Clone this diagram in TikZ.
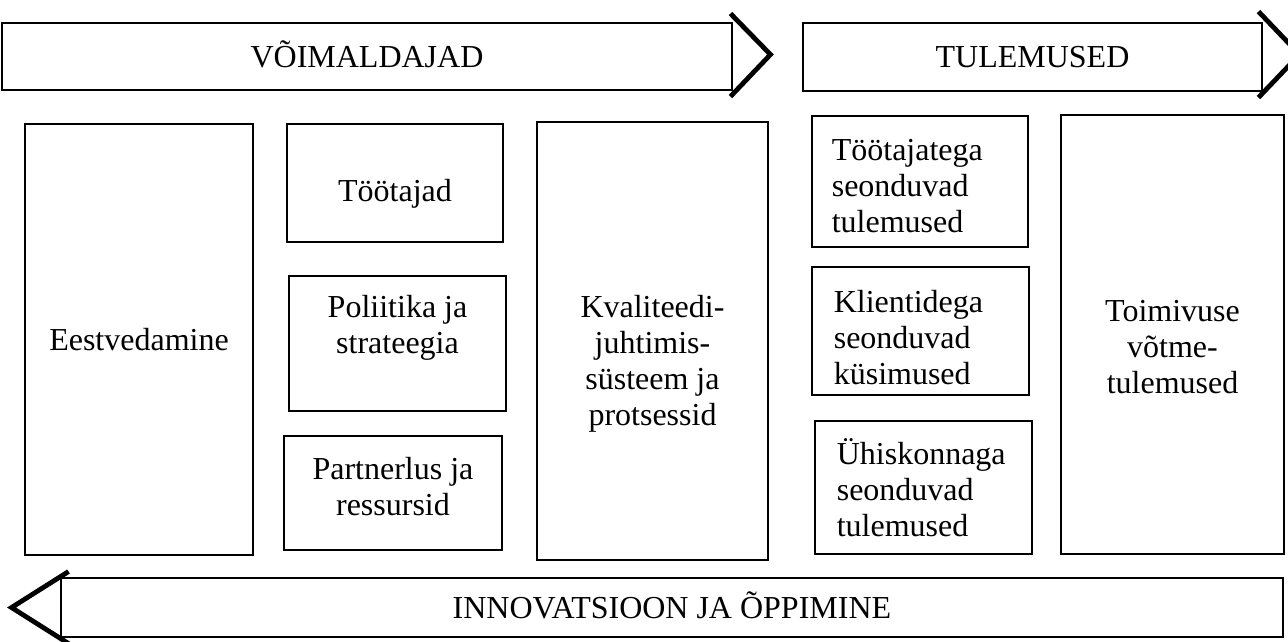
\documentclass[tikz,border=0pt]{standalone}
\usepackage{fontspec}
\setmainfont{Liberation Serif}
\usetikzlibrary{positioning}
\tikzset{
  blk/.style={draw, line width=2.2pt, align=center, inner sep=0pt,
    font=\fontsize{24}{27}\selectfont},
  band/.style={blk, text height=16pt, text depth=0pt},
  lbl/.style={align=left, inner sep=0pt, font=\fontsize{24}{27}\selectfont},
  chev/.style={line width=3.6pt, line join=miter}
}
\begin{document}
\begin{tikzpicture}[x=0.75pt, y=-0.75pt]
  \clip (0,0) rectangle (1288,642);
  % arrows on top and at the bottom
  \node[band, minimum width=547.5pt, minimum height=50.25pt] (enablers) at (367,56.5) {VÕIMALDAJAD};
  \draw[chev] ([shift={(-3,-8)}]enablers.north east) -- ++(40,41) -- ++(-40,42);
  \node[band, minimum width=344.25pt, minimum height=51pt] (results) at (1032.5,57) {TULEMUSED};
  \draw[chev] ([shift={(-5,-10)}]results.north east) -- ++(41,43) -- ++(-41,43);
  \node[band, minimum width=916.5pt, minimum height=44.25pt] (innov) at (672,607.5) {INNOVATSIOON JA ÕPPIMINE};
  \draw[chev] ([shift={(9,-5)}]innov.north west) -- ++(-57,36) -- ++(57,36);
  % enablers
  \node[blk, minimum width=171pt, minimum height=323.25pt] (lead) at (139,339.5) {Eestvedamine};
  \node[blk, minimum width=162pt, minimum height=88.5pt] (staff) at (395,183) {};
  \node[lbl] (stafftext) at ([yshift=-8.25pt]staff.center) {Töötajad};
  \node[blk, minimum width=162.75pt, minimum height=101.25pt] (policy) at (397.5,343.5) {};
  \node[lbl, align=center] (policytext) at ([yshift=12pt]policy.center) {Poliitika ja\\strateegia};
  \node[blk, minimum width=163.5pt, minimum height=85.5pt] (partner) at (393,493) {};
  \node[lbl, align=center] (partnertext) at ([yshift=4.5pt]partner.center) {Partnerlus ja\\ressursid};
  \node[blk, minimum width=173.25pt, minimum height=328.5pt] (quality) at (652.5,341) {};
  \node[lbl, align=center] (qualitytext) at ([yshift=-17.25pt]quality.center) {Kvaliteedi-\\juhtimis-\\süsteem ja\\protsessid};
  % results
  \node[blk, minimum width=162pt, minimum height=98.25pt] (resstaff) at (920,181.5) {};
  \node[lbl, anchor=west] (resstafftext) at ([shift={(15.75pt,-3.75pt)}]resstaff.west) {Töötajatega\\seonduvad\\tulemused};
  \node[blk, minimum width=162.75pt, minimum height=96pt] (rescust) at (920.5,331) {};
  \node[lbl, anchor=west] (rescusttext) at ([shift={(17.25pt,-5pt)}]rescust.west) {Klientidega\\seonduvad\\küsimused};
  \node[blk, minimum width=162.75pt, minimum height=99.75pt] (ressoc) at (923.5,487.5) {};
  \node[lbl, anchor=west] (ressoctext) at ([xshift=17.25pt]ressoc.west) {Ühiskonnaga\\seonduvad\\tulemused};
  \node[blk, minimum width=167.25pt, minimum height=329.25pt] (keyres) at (1172.5,334.5) {};
  \node[lbl, align=center] (keyrestext) at ([yshift=-9.75pt]keyres.center) {Toimivuse\\võtme-\\tulemused};
\end{tikzpicture}
\end{document}
